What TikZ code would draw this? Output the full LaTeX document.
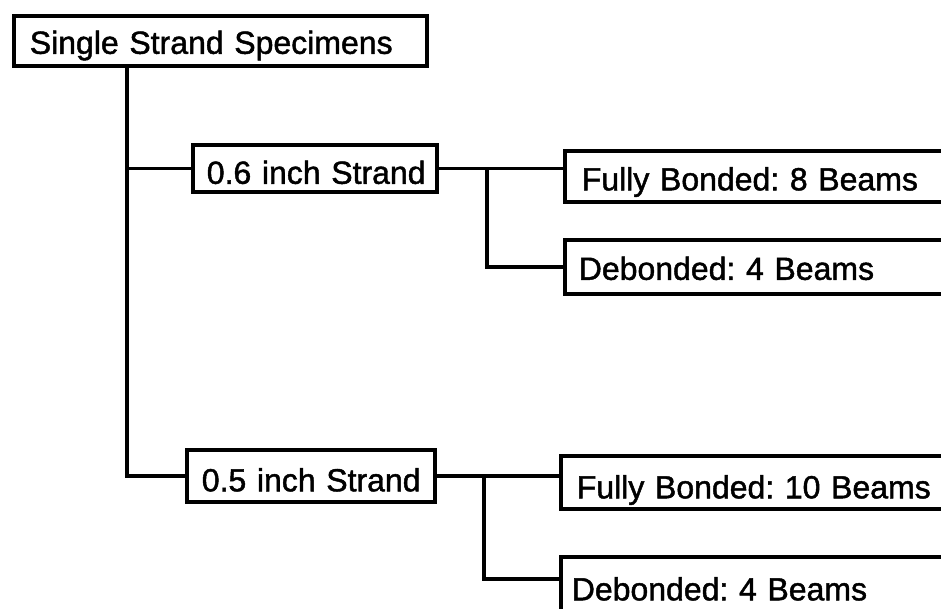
\documentclass[tikz,border=0pt]{standalone}
\usepackage{fontspec}
\setmainfont{Liberation Sans}[FakeBold=1.4]
\usetikzlibrary{calc}
\begin{document}
\frenchspacing
\begin{tikzpicture}[x=1pt,y=-1pt,
  box/.style={draw=black,line width=3.6pt,rectangle,anchor=north west,
    font=\fontsize{32}{38}\selectfont,align=left,inner ysep=0pt,
    text height=23pt,text depth=0pt},
  conn/.style={draw=black,line width=3.4pt}]
\useasboundingbox (0,0) rectangle (941,608);
\clip (0,0) rectangle (941,608);
\fill[white] (0,0) rectangle (941,608);
% boxes
\node[box,minimum width=413pt,minimum height=50pt,inner xsep=16pt,text width=381pt] (root) at (12,14) {\raisebox{-1.5pt}{Single Strand Specimens}};
\node[box,minimum width=244pt,minimum height=47pt,inner xsep=14pt,text width=216pt] (s06) at (191,143) {\raisebox{-4pt}{0.6 inch Strand}};
\node[box,minimum width=420pt,minimum height=51pt,inner xsep=17pt,text width=386pt] (fb8) at (563,149) {\raisebox{-2.5pt}{Fully Bonded: 8 Beams}};
\node[box,minimum width=420pt,minimum height=54pt,inner xsep=14pt,text width=392pt] (d4a) at (563,238) {\raisebox{-1.5pt}{Debonded: 4 Beams}};
\node[box,minimum width=248pt,minimum height=52pt,inner xsep=15pt,text width=218pt] (s05) at (185,448) {\raisebox{-4pt}{0.5 inch Strand}};
\node[box,minimum width=420pt,minimum height=53pt,inner xsep=16pt,text width=388pt] (fb10) at (559,454) {\raisebox{-4.5pt}{Fully Bonded: 10 Beams}};
\node[box,minimum width=420pt,minimum height=64pt,inner xsep=11pt,text width=398pt] (d4b) at (559,555) {Debonded: 4 Beams};
% connectors
\coordinate (trunk) at ($(root.south west)+(115,0)$);
\draw[conn] (trunk) |- (s06.west);
\draw[conn] (trunk) |- (s05.west);
\coordinate (j1) at (487,0);
\draw[conn] (s06.east) -- (s06.east -| fb8.west);
\draw[conn] (s06.east -| j1) |- (d4a.west);
\coordinate (j2) at (484,0);
\draw[conn] (s05.east) -- (s05.east -| fb10.west);
\draw[conn] (s05.east -| j2) |- ($(d4b.north west)+(0,24)$);
\end{tikzpicture}
\end{document}
